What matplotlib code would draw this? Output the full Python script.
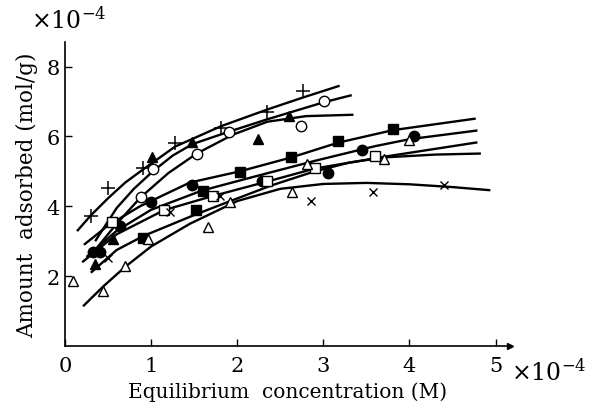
import matplotlib
matplotlib.use("Agg")
import matplotlib.pyplot as plt

plt.rcParams['font.family'] = ['DejaVu Serif']
plt.rcParams['mathtext.fontset'] = 'dejavuserif'

# measured points (x in 1e-4 M, y in 1e-4 mol/g)
plus_x = [0.30, 0.50, 0.91, 1.28, 1.81, 2.35, 2.76]
plus_y = [3.71, 4.51, 5.09, 5.80, 6.23, 6.71, 7.29]
ocirc_x = [0.88, 1.02, 1.53, 1.91, 2.74, 3.01]
ocirc_y = [4.26, 5.06, 5.51, 6.14, 6.31, 7.00]
ftri_x = [0.35, 0.56, 1.01, 1.48, 2.24, 2.60]
ftri_y = [2.34, 3.06, 5.40, 5.83, 5.94, 6.57]
fcirc_x = [0.33, 0.41, 0.64, 1.00, 1.47, 2.29, 3.06, 3.45, 4.05]
fcirc_y = [2.69, 2.69, 3.43, 4.11, 4.60, 4.71, 4.94, 5.60, 6.00]
fsq_x = [0.91, 1.52, 1.60, 2.03, 2.63, 3.17, 3.81]
fsq_y = [3.09, 3.89, 4.43, 4.97, 5.40, 5.86, 6.20]
osq_x = [0.55, 1.15, 1.72, 2.35, 2.90, 3.60]
osq_y = [3.54, 3.89, 4.29, 4.71, 5.11, 5.43]
otri_x = [0.09, 0.44, 0.70, 0.97, 1.66, 1.92, 2.64, 2.81, 3.71, 3.99]
otri_y = [1.86, 1.57, 2.29, 3.06, 3.40, 4.11, 4.40, 5.20, 5.34, 5.91]
cross_x = [0.50, 1.22, 1.80, 2.86, 3.58, 4.40]
cross_y = [2.51, 3.83, 4.29, 4.14, 4.40, 4.60]

# fitted isotherm curves
curve_a_x = [0.14, 0.30, 0.50, 0.70, 0.91, 1.28, 1.81, 2.35, 2.76, 3.19]
curve_a_y = [3.29, 3.74, 4.23, 4.68, 5.06, 5.71, 6.29, 6.77, 7.11, 7.45]
curve_b_x = [0.35, 0.60, 0.80, 1.02, 1.25, 1.48, 1.91, 2.35, 3.01, 3.33]
curve_b_y = [3.00, 3.95, 4.50, 5.00, 5.45, 5.78, 6.14, 6.49, 6.98, 7.18]
curve_c_x = [0.30, 0.60, 0.88, 1.20, 1.53, 1.95, 2.35, 2.80, 3.35]
curve_c_y = [2.60, 3.50, 4.26, 4.95, 5.51, 6.05, 6.42, 6.58, 6.62]
curve_d_x = [0.22, 0.50, 0.87, 1.45, 2.03, 2.63, 3.17, 3.81, 4.77]
curve_d_y = [2.90, 3.45, 4.00, 4.68, 5.00, 5.40, 5.82, 6.18, 6.51]
curve_e_x = [0.25, 0.60, 1.00, 1.59, 2.20, 2.90, 3.60, 4.00, 4.79]
curve_e_y = [2.55, 3.30, 3.90, 4.45, 4.85, 5.30, 5.72, 5.92, 6.17]
curve_f_x = [0.20, 0.60, 1.15, 1.71, 2.35, 2.90, 3.71, 4.79]
curve_f_y = [2.40, 3.20, 3.89, 4.29, 4.71, 5.08, 5.42, 5.83]
curve_g_x = [0.30, 0.60, 0.91, 1.50, 1.92, 2.40, 2.90, 3.30, 3.71, 4.30, 4.83]
curve_g_y = [2.10, 2.75, 3.15, 3.75, 4.15, 4.60, 5.00, 5.25, 5.40, 5.48, 5.51]
curve_h_x = [0.21, 0.45, 0.70, 1.00, 1.45, 2.00, 2.50, 3.00, 3.50, 4.00, 4.50, 4.94]
curve_h_y = [1.14, 1.72, 2.27, 2.85, 3.50, 4.15, 4.50, 4.64, 4.67, 4.63, 4.55, 4.46]

fig = plt.figure(figsize=(5.96, 4.06), dpi=100)
ax = fig.add_axes([0.109, 0.145, 0.747, 0.749])

for cx, cy in [(curve_a_x, curve_a_y), (curve_b_x, curve_b_y), (curve_c_x, curve_c_y),
               (curve_d_x, curve_d_y), (curve_e_x, curve_e_y), (curve_f_x, curve_f_y),
               (curve_g_x, curve_g_y), (curve_h_x, curve_h_y)]:
    ax.plot(cx, cy, color='black', lw=1.7, solid_capstyle='butt')

ms = 7.5
ax.plot(plus_x, plus_y, '+', color='black', ms=10, mew=1.1, ls='none')
ax.plot(ocirc_x, ocirc_y, 'o', mfc='white', mec='black', ms=ms, mew=1.0, ls='none')
ax.plot(ftri_x, ftri_y, '^', color='black', ms=ms, ls='none')
ax.plot(fcirc_x, fcirc_y, 'o', color='black', ms=ms, ls='none')
ax.plot(fsq_x, fsq_y, 's', color='black', ms=7, ls='none')
ax.plot(osq_x, osq_y, 's', mfc='white', mec='black', ms=7, mew=1.0, ls='none')
ax.plot(otri_x, otri_y, '^', mfc='white', mec='black', ms=ms, mew=1.0, ls='none')
ax.plot(cross_x, cross_y, 'x', color='black', ms=5.5, mew=1.0, ls='none')

ax.set_xlim(0, 5.17)
ax.set_ylim(0, 8.7)
ax.spines['top'].set_visible(False)
ax.spines['right'].set_visible(False)
ax.spines['left'].set_linewidth(1.2)
ax.spines['bottom'].set_linewidth(1.2)
ax.plot(1, 0, '>', color='black', ms=4, transform=ax.transAxes, clip_on=False)

ax.set_xticks([0, 1, 2, 3, 4, 5])
ax.set_yticks([2, 4, 6, 8])
ax.tick_params(direction='in', length=5, width=1, labelsize=15, pad=4)
ax.tick_params(axis='x', pad=7)

ax.set_xlabel('Equilibrium  concentration (M)', fontsize=14.5, labelpad=5)
ax.set_ylabel('Amount  adsorbed (mol/g)', fontsize=15.5, labelpad=6)
fig.text(0.052, 0.93, r'$\times10^{-4}$', fontsize=17)
fig.text(0.858, 0.062, r'$\times10^{-4}$', fontsize=17)

fig.savefig('out.png', dpi=100)
